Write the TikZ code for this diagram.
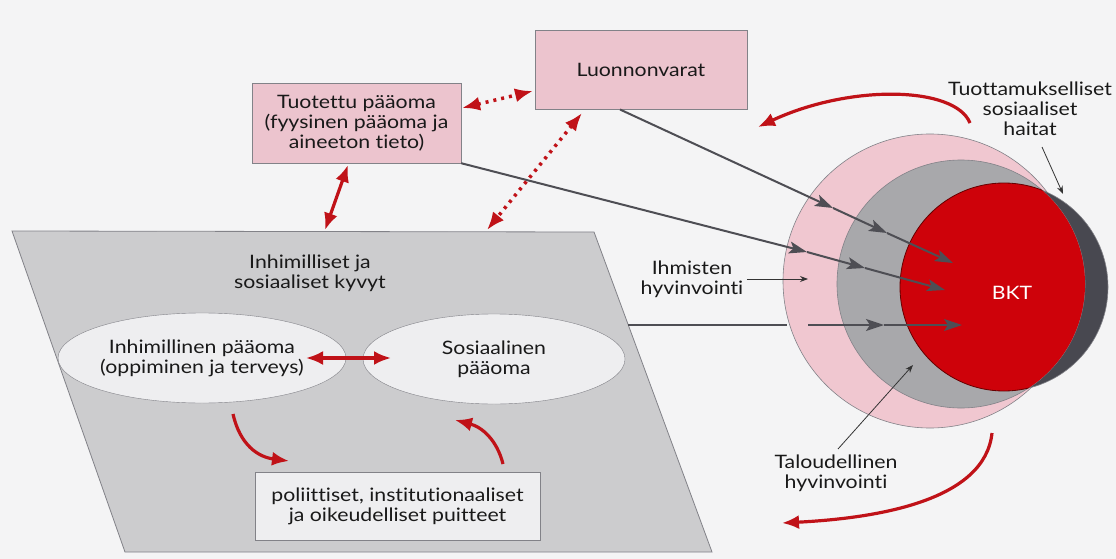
\documentclass[tikz,border=0pt]{standalone}
\usepackage{fontspec}
\setmainfont{Lato}[FakeStretch=1.15, Ligatures={NoCommon}]
\usetikzlibrary{arrows.meta,shapes.geometric}
\definecolor{bg}{RGB}{244,244,245}
\definecolor{pinkbox}{RGB}{236,196,206}
\definecolor{pinkcirc}{RGB}{240,199,208}
\definecolor{parfill}{RGB}{204,204,206}
\definecolor{ellfill}{RGB}{238,238,240}
\definecolor{redarr}{RGB}{192,18,24}
\definecolor{redfill}{RGB}{206,2,10}
\definecolor{graycirc}{RGB}{168,168,171}
\definecolor{darkcirc}{RGB}{72,72,80}
\definecolor{linegray}{RGB}{78,78,84}
\definecolor{edgecol}{RGB}{130,130,136}
\tikzset{
  pbox/.style={draw=edgecol, fill=pinkbox, align=center, inner sep=0pt, text=black!90},
  ellnode/.style={ellipse, draw=edgecol, fill=ellfill, align=center, inner sep=0pt, minimum width=262pt, minimum height=90pt, text=black!90},
  lbl/.style={align=center, text=black!90},
  redarrow/.style={draw=redarr, line width=3.2pt, -{Latex[length=17pt,width=14pt]}},
  reddbl/.style={draw=redarr, line width=3.2pt, {Latex[length=17pt,width=14pt]}-{Latex[length=17pt,width=14pt]}},
  reddot/.style={draw=redarr, line width=3.5pt, dash pattern=on 3pt off 5pt, {Latex[length=18pt,width=14pt]}-{Latex[length=18pt,width=14pt]}},
  gline/.style={draw=linegray, line width=2pt, -{Stealth[length=18pt,width=12pt,inset=4pt]}},
  gplain/.style={draw=linegray, line width=2pt},
  pointer/.style={draw=black!80, line width=0.8pt, -{Stealth[length=8pt,width=6pt]}},
}
\begin{document}
\begin{tikzpicture}[x=1pt,y=-1pt, font=\fontsize{18.5}{20}\selectfont]
\useasboundingbox (0,0) rectangle (1116,559);
\fill[bg] (0,0) rectangle (1116,559);

% parallelogram
\filldraw[fill=parfill, draw=edgecol, line width=0.8pt]
  (12,231) coordinate (pTL) -- (594,232) coordinate (pTR) -- (712,552) coordinate (pBR) -- (125,552) coordinate (pBL) -- cycle;
\node[lbl] (title) at (310,273) {Inhimilliset ja\\sosiaaliset kyvyt};
\node[ellnode] (hum) at (202,358) {Inhimillinen pääoma\\(oppiminen ja terveys)};
\node[ellnode] (soc) at (494,359) {Sosiaalinen\\pääoma};
\node[draw=edgecol, fill=ellfill, align=center, minimum width=285pt, minimum height=68pt, inner sep=0pt, text=black!90] (pol) at (397.5,506) {poliittiset, institutionaaliset\\ja oikeudelliset puitteet};

% top boxes
\node[pbox, minimum width=209pt, minimum height=80pt] (tuot) at (356.5,123) {Tuotettu pääoma\\(fyysinen pääoma ja\\aineeton tieto)};
\node[pbox, minimum width=212pt, minimum height=79pt] (luon) at (641,69.5) {Luonnonvarat};

% circles
\coordinate (cPink) at (930,281);
\coordinate (cGray) at (961,284);
\coordinate (cDark) at (1004,287);
\filldraw[fill=pinkcirc, draw=edgecol, line width=0.6pt] (cPink) circle[radius=147];
\filldraw[fill=darkcirc, draw=edgecol, line width=0.6pt] (cDark) circle[radius=104];
\filldraw[fill=graycirc, draw=edgecol, line width=0.6pt] (cGray) circle[radius=124];
\begin{scope}
  \clip (cGray) circle[radius=124];
  \filldraw[fill=redfill, draw=black!60!red, line width=0.8pt] (cDark) circle[radius=104];
\end{scope}
\node[text=white] (bkt) at (1012,293) {BKT};

% gray arrows into circles
\coordinate (l1s) at (620,109.5);
\coordinate (l1a) at (833,208);
\coordinate (l1b) at (887,233);
\coordinate (l1t) at (953,263);
\draw[gline] (l1s) -- (l1a);
\draw[gline] (l1a) -- (l1b);
\draw[gline] (l1b) -- (l1t);
\coordinate (l2a) at (807,252);
\coordinate (l2b) at (865,268);
\coordinate (l2t) at (945,290);
\draw[gline] (tuot.south east) -- (l2a);
\draw[gline] (l2a) -- (l2b);
\draw[gline] (l2b) -- (l2t);
\coordinate (l3s) at (628,325);
\coordinate (l3g) at (787,325);
\coordinate (l3h) at (808,325);
\coordinate (l3a) at (884,325);
\coordinate (l3t) at (962,325);
\draw[gplain] (l3s) -- (l3g);
\draw[gline] (l3h) -- (l3a);
\draw[gline] (l3a) -- (l3t);

% labels with pointers
\node[lbl] (ihm) at (692,279) {Ihmisten\\hyvinvointi};
\coordinate (ihmT) at (808,279);
\draw[pointer] (ihm.east) -- (ihmT);
\node[lbl] (tal) at (836,473) {Taloudellinen\\hyvinvointi};
\coordinate (talS) at (838,449);
\coordinate (talT) at (913,365);
\draw[pointer] (talS) -- (talT);
\node[lbl] (tuo) at (1030,109) {Tuottamukselliset\\sosiaaliset\\haitat};
\coordinate (tuoS) at (1042,147);
\coordinate (tuoT) at (1063,194);
\draw[pointer] (tuoS) -- (tuoT);

% red arrows
\coordinate (dA1) at (462,108);
\coordinate (dA2) at (533,91);
\draw[reddot] (dA1) -- (dA2);
\coordinate (dB1) at (582,113);
\coordinate (dB2) at (487,230);
\draw[reddot] (dB1) -- (dB2);
\coordinate (sA1) at (348,165);
\coordinate (sA2) at (325,230);
\draw[reddbl] (sA1) -- (sA2);
\coordinate (eA1) at (306,358);
\coordinate (eA2) at (391,358);
\draw[reddbl] (eA1) -- (eA2);
\coordinate (cA1) at (233,414);
\coordinate (cA2) at (289,461);
\draw[redarrow] (cA1) .. controls (240,445) and (258,457) .. (cA2);
\coordinate (cB1) at (503,464);
\coordinate (cB2) at (455,420);
\draw[redarrow] (cB1) .. controls (497,440) and (482,427) .. (cB2);
\coordinate (tR1) at (970,123);
\coordinate (tR2) at (758,127);
\draw[redarrow] (tR1) .. controls (955,86) and (850,84) .. (tR2);
\coordinate (bR1) at (992,433);
\coordinate (bR2) at (782,523);
\draw[redarrow] (bR1) .. controls (985,500) and (880,518) .. (bR2);
\end{tikzpicture}
\end{document}
